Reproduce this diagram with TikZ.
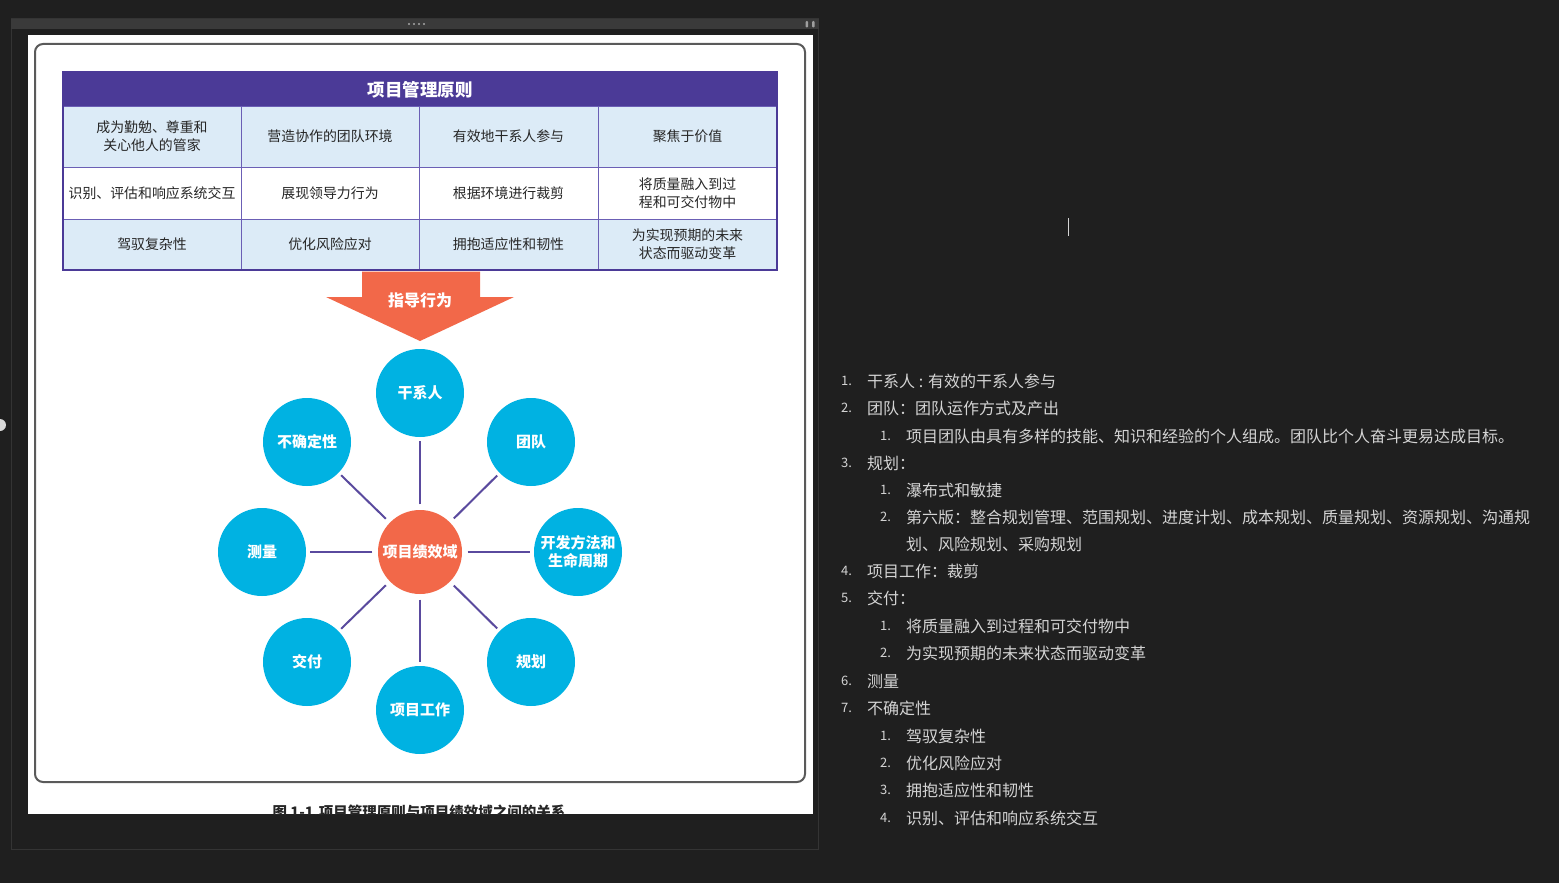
\documentclass[tikz,border=0pt]{standalone}
\usepackage{fontspec}
\setmainfont{Noto Sans CJK SC}
\definecolor{bgdark}{HTML}{1F1F1F}
\definecolor{barcol}{HTML}{3A3A3A}
\definecolor{panelline}{HTML}{343434}
\definecolor{hdrpurple}{HTML}{4B3A97}
\definecolor{cellblue}{HTML}{DCEBF7}
\definecolor{cellline}{HTML}{6B5FB5}
\definecolor{arroworange}{HTML}{F26849}
\definecolor{domblue}{HTML}{00B2E2}
\definecolor{linkpurple}{HTML}{5A4A9E}
\definecolor{listtext}{HTML}{D4D4D4}
\definecolor{framegray}{HTML}{5A5A5A}
\tikzset{
  cell/.style={draw=cellline, line width=1pt, inner sep=0pt, align=center,
    text=black!85, font=\fontsize{13.9}{18}\selectfont},
  dom/.style={circle, fill=domblue, minimum size=88pt, inner sep=0pt, text=white,
    align=center, font=\fontsize{15}{18}\selectfont\bfseries},
  hub/.style={circle, fill=arroworange, minimum size=84pt, inner sep=0pt, text=white,
    font=\fontsize{15}{18}\selectfont\bfseries},
  link/.style={draw=linkpurple, line width=2pt, shorten <=5.5pt, shorten >=3.5pt},
  listnum/.style={anchor=west, inner sep=0pt, text=listtext, font=\fontsize{13}{16}\selectfont},
  listitem/.style={anchor=west, inner sep=0pt, text=listtext, font=\fontsize{16}{19}\selectfont},
}
\begin{document}
\begin{tikzpicture}[x=1pt,y=-1pt]
\useasboundingbox (0,0) rectangle (1559,883);
\fill[bgdark] (0,0) rectangle (1559,883);
% side marker on the left edge
\fill[white!85!black] (0,425) circle (6);
% panel
\draw[panelline, line width=1pt] (11.5,19) rectangle (818,849);
\fill[barcol] (11,19) rectangle (818.5,29.5);
\foreach \xx in {409,414,419,424} \fill[gray!70] (\xx,24) circle (1.1);
\fill[gray!75, rounded corners=1pt] (805.5,21) rectangle (808,27.5);
\fill[gray!75, rounded corners=1pt] (812,21) rectangle (814.5,27.5);
% page
\fill[white] (28,35) rectangle (813,814);
\draw[framegray, line width=2pt, rounded corners=8pt] (35,44) rectangle (805,782);
% table
\node[fill=hdrpurple, minimum width=716pt, minimum height=34pt, inner sep=0pt, text=white,
  font=\fontsize{17.5}{20}\selectfont\bfseries] (hdr) at (420,89.5) {项目管理原则};
\node[cell, fill=cellblue, minimum width=178pt, minimum height=61pt] (p11) at (152,136.5) {成为勤勉、尊重和\\关心他人的管家};
\node[cell, fill=cellblue, minimum width=178pt, minimum height=61pt] (p12) at (330,136.5) {营造协作的团队环境};
\node[cell, fill=cellblue, minimum width=179pt, minimum height=61pt] (p13) at (508.5,136.5) {有效地干系人参与};
\node[cell, fill=cellblue, minimum width=179pt, minimum height=61pt] (p14) at (687.5,136.5) {聚焦于价值};
\node[cell, fill=white, minimum width=178pt, minimum height=52pt] (p21) at (152,193) {识别、评估和响应系统交互};
\node[cell, fill=white, minimum width=178pt, minimum height=52pt] (p22) at (330,193) {展现领导力行为};
\node[cell, fill=white, minimum width=179pt, minimum height=52pt] (p23) at (508.5,193) {根据环境进行裁剪};
\node[cell, fill=white, minimum width=179pt, minimum height=52pt] (p24) at (687.5,193) {将质量融入到过\\程和可交付物中};
\node[cell, fill=cellblue, minimum width=178pt, minimum height=51pt] (p31) at (152,244.5) {驾驭复杂性};
\node[cell, fill=cellblue, minimum width=178pt, minimum height=51pt] (p32) at (330,244.5) {优化风险应对};
\node[cell, fill=cellblue, minimum width=179pt, minimum height=51pt] (p33) at (508.5,244.5) {拥抱适应性和韧性};
\node[cell, fill=cellblue, minimum width=179pt, minimum height=51pt] (p34) at (687.5,244.5) {为实现预期的未来\\状态而驱动变革};
\draw[hdrpurple, line width=2.5pt] (63,72) rectangle (777,270);
% arrow
\fill[arroworange] (362,271.5) -- (480,271.5) -- (480,297) -- (514,297) -- (420,341) -- (326,297) -- (362,297) -- cycle;
\node[text=white, font=\fontsize{16}{18}\selectfont\bfseries] (guide) at (420,300) {指导行为};
% domains
\node[hub] (pd) at (420,552) {项目绩效域};
\node[dom] (sh) at (420,393) {干系人};
\node[dom] (tm) at (531,442) {团队};
\node[dom] (dm) at (578,552) {开发方法和\\生命周期};
\node[dom] (pl) at (531,662) {规划};
\node[dom] (pw) at (420,710) {项目工作};
\node[dom] (dl) at (307,662) {交付};
\node[dom] (ms) at (262,552) {测量};
\node[dom] (un) at (307,442) {不确定性};
\foreach \t in {sh,tm,dm,pl,pw,dl,ms,un} \draw[link] (pd) -- (\t);
% caption (clipped by page edge)
\begin{scope}
\clip (28,35) rectangle (813,814);
\node[text=black!85, font=\fontsize{14.5}{16}\selectfont\bfseries] (cap) at (419,811.5) {图 1-1.项目管理原则与项目绩效域之间的关系};
\end{scope}
% text cursor
\coordinate (cur1) at (1068,218);
\coordinate (cur2) at (1068,236);
\draw[listtext, line width=1pt] (cur1) -- (cur2);
% list
\node[listnum] (n1) at (841,381) {1.};
\node[listitem] (t1) at (867,381) {干系人 : 有效的干系人参与};
\node[listnum] (n2) at (841,408) {2.};
\node[listitem] (t2) at (867,408) {团队：团队运作方式及产出};
\node[listnum] (n21) at (880,436) {1.};
\node[listitem] (t21) at (906,436) {项目团队由具有多样的技能、知识和经验的个人组成。团队比个人奋斗更易达成目标。};
\node[listnum] (n3) at (841,463) {3.};
\node[listitem] (t3) at (867,463) {规划：};
\node[listnum] (n31) at (880,490) {1.};
\node[listitem] (t31) at (906,490) {瀑布式和敏捷};
\node[listnum] (n32) at (880,517) {2.};
\node[listitem] (t32) at (906,517) {第六版：整合规划管理、范围规划、进度计划、成本规划、质量规划、资源规划、沟通规};
\node[listitem] (t32b) at (906,544) {划、风险规划、采购规划};
\node[listnum] (n4) at (841,571) {4.};
\node[listitem] (t4) at (867,571) {项目工作：裁剪};
\node[listnum] (n5) at (841,598) {5.};
\node[listitem] (t5) at (867,598) {交付：};
\node[listnum] (n51) at (880,626) {1.};
\node[listitem] (t51) at (906,626) {将质量融入到过程和可交付物中};
\node[listnum] (n52) at (880,653) {2.};
\node[listitem] (t52) at (906,653) {为实现预期的未来状态而驱动变革};
\node[listnum] (n6) at (841,681) {6.};
\node[listitem] (t6) at (867,681) {测量};
\node[listnum] (n7) at (841,708) {7.};
\node[listitem] (t7) at (867,708) {不确定性};
\node[listnum] (n71) at (880,736) {1.};
\node[listitem] (t71) at (906,736) {驾驭复杂性};
\node[listnum] (n72) at (880,763) {2.};
\node[listitem] (t72) at (906,763) {优化风险应对};
\node[listnum] (n73) at (880,790) {3.};
\node[listitem] (t73) at (906,790) {拥抱适应性和韧性};
\node[listnum] (n74) at (880,818) {4.};
\node[listitem] (t74) at (906,818) {识别、评估和响应系统交互};
\end{tikzpicture}
\end{document}
